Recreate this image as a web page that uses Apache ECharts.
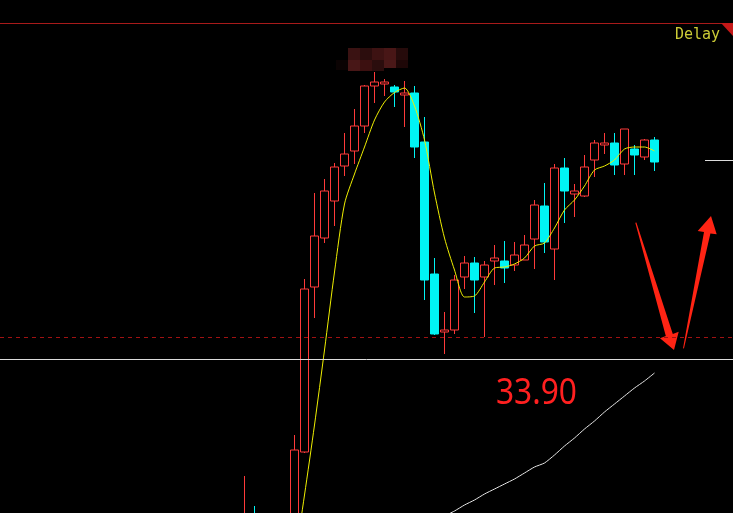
<!DOCTYPE html>
<html>
<head>
<meta charset="utf-8">
<script src="https://cdn.jsdelivr.net/npm/echarts@6/dist/echarts.min.js"></script>
<style>
html,body{margin:0;padding:0;background:#000;}
#chart{width:733px;height:513px;}
</style>
</head>
<body>
<div id="chart"></div>
<script>
// ---- data (prices); period index 0 = first candle ----
const opens  = [32.05,32.31,31.90,32.05,32.10,32.20,32.97,34.62,35.11,35.48,35.83,35.98,36.23,36.63,36.65,36.62,36.54,36.56,36.07,34.75,34.17,34.19,34.72,34.86,34.72,34.88,34.88,34.84,34.89,35.10,35.43,35.00,35.81,35.55,35.53,35.89,36.04,36.06,35.85,36.00,35.92,36.09];
const closes = [32.29,32.10,32.05,32.15,32.25,32.99,34.60,35.13,35.58,35.82,35.95,36.23,36.63,36.67,36.67,36.57,36.56,36.02,34.69,34.15,34.19,34.69,34.86,34.69,34.84,34.91,34.81,34.94,35.04,35.44,35.07,35.81,35.58,35.58,35.82,36.06,36.06,35.84,36.20,35.94,36.09,35.87];
const lows   = [31.98,31.95,31.85,31.95,32.00,32.15,32.96,34.31,35.06,35.23,35.73,35.85,36.16,36.46,36.53,36.42,36.22,35.91,34.49,34.14,33.95,34.15,34.60,34.36,34.12,34.64,34.66,34.78,34.89,34.80,34.96,34.69,35.26,35.32,35.52,35.72,35.95,35.74,35.74,35.74,35.89,35.78];
const highs  = [32.73,32.43,32.20,32.25,32.30,33.14,34.70,35.56,35.70,35.86,36.16,36.40,36.64,36.77,36.70,36.64,36.68,36.63,36.32,34.91,34.37,34.74,34.93,34.92,34.88,35.04,35.08,35.07,35.14,35.49,35.66,35.85,35.91,35.65,35.94,36.09,36.16,36.16,36.20,36.04,36.10,36.12];
const maShort = [null,null,null,null,31.49,31.89,32.54,33.24,33.99,34.77,35.45,35.75,36.02,36.29,36.47,36.565,36.61,36.43,36.09,35.56,35.11,34.79,34.52,34.53,34.67,34.81,34.82,34.85,34.91,35.03,35.06,35.21,35.39,35.49,35.63,35.79,35.83,35.89,36.00,36.02,36.02,35.98];
const maLong = [null,null,null,null,null,null,null,null,null,null,null,null,null,null,null,null,null,null,null,null,32.33,32.38,32.44,32.49,32.55,32.60,32.65,32.70,32.76,32.82,32.86,32.94,33.03,33.11,33.20,33.28,33.37,33.45,33.53,33.61,33.68,33.76];
const levelPrice = 33.90;     // white support line (labelled)
const dashedPrice = 34.115;   // dashed dark red line
const rightMarkPrice = 35.89; // short white mark at right
const rightMarkFrom = 46.05, rightMarkTo = 48.85; // period range of that mark
const xMin = -24.45, xMax = 48.85;  // visible period range
const yMin = 32.36, yMax = 37.49;   // visible price range
const labelText = '33.90';

// ---- build library structures ----
const candleData = opens.map((o, i) => [i, o, closes[i], lows[i], highs[i]]);
const shortData = [], longData = [];
maShort.forEach((v, i) => { if (v != null) shortData.push([i, v]); });
maLong.forEach((v, i) => { if (v != null) longData.push([i, v]); });

const chart = echarts.init(document.getElementById('chart'), null, {renderer: 'canvas'});
const option = {
  backgroundColor: '#000000',
  animation: false,
  grid: {left: 0, top: 0, width: 733, height: 513, containLabel: false},
  xAxis: {type: 'value', min: xMin, max: xMax, show: false, splitLine: {show: false}},
  yAxis: {type: 'value', min: yMin, max: yMax, show: false, splitLine: {show: false}},
  series: [
    {
      type: 'candlestick',
      data: candleData,
      encode: {x: 0, y: [1, 2, 3, 4]},
      barWidth: 8,
      clip: true,
      itemStyle: {
        color: '#000000', color0: '#00f4f4',
        borderColor: '#ff3a3a', borderColor0: '#00f4f4', borderWidth: 1
      },
      markLine: {
        silent: true, symbol: 'none', label: {show: false},
        data: [
          {yAxis: levelPrice, lineStyle: {color: '#dcdcdc', width: 1, type: 'solid'}},
          {yAxis: dashedPrice, lineStyle: {color: '#a01212', width: 1, type: [4, 4]}},
          [{coord: [rightMarkFrom, rightMarkPrice], lineStyle: {color: '#dcdcdc', width: 1, type: 'solid'}},
           {coord: [rightMarkTo, rightMarkPrice]}]
        ]
      }
    },
    {
      type: 'line', data: shortData, symbol: 'none', smooth: 0.25,
      lineStyle: {color: '#f0f000', width: 1}, z: 3
    },
    {
      type: 'line', data: longData, symbol: 'none', smooth: 0.2,
      lineStyle: {color: '#e6e6e6', width: 1}, z: 3
    }
  ],
  graphic: [
    {type: 'line', shape: {x1: 0, y1: 23.5, x2: 722, y2: 23.5}, style: {stroke: '#a81a1a', lineWidth: 1}, silent: true},
    {type: 'polygon', shape: {points: [[721, 23], [733, 23], [733, 36]]}, style: {fill: '#c41818'}, silent: true},
    {type: 'text', x: 675, y: 28, style: {text: 'Delay', font: '15px "DejaVu Sans Mono"', fill: '#cccc36'}, silent: true},
    {type: 'rect', shape: {x: 348, y: 48, width: 12, height: 12}, style: {fill: '#3a1212'}, silent: true},
    {type: 'rect', shape: {x: 360, y: 48, width: 12, height: 12}, style: {fill: '#2c0d0d'}, silent: true},
    {type: 'rect', shape: {x: 372, y: 48, width: 12, height: 12}, style: {fill: '#3d1212'}, silent: true},
    {type: 'rect', shape: {x: 384, y: 48, width: 12, height: 12}, style: {fill: '#481616'}, silent: true},
    {type: 'rect', shape: {x: 396, y: 48, width: 12, height: 12}, style: {fill: '#260b0b'}, silent: true},
    {type: 'rect', shape: {x: 336, y: 60, width: 12, height: 10}, style: {fill: '#0b0303'}, silent: true},
    {type: 'rect', shape: {x: 348, y: 60, width: 12, height: 11}, style: {fill: '#481717'}, silent: true},
    {type: 'rect', shape: {x: 360, y: 60, width: 12, height: 11}, style: {fill: '#3c1010'}, silent: true},
    {type: 'rect', shape: {x: 372, y: 60, width: 12, height: 11}, style: {fill: '#2b0d0d'}, silent: true},
    {type: 'rect', shape: {x: 384, y: 60, width: 12, height: 8}, style: {fill: '#4a1818'}, silent: true},
    {type: 'rect', shape: {x: 396, y: 60, width: 12, height: 8}, style: {fill: '#1e0707'}, silent: true},
    {type: 'polygon', shape: {points: [[635.3, 222.8], [636.4, 222.5], [672.8, 333.9], [678.7, 331.7], [674, 350], [660, 338.3], [665.8, 336.1]]}, style: {fill: '#ff2414'}, silent: true},
    {type: 'polygon', shape: {points: [[683, 348.5], [704, 232.0], [697.7, 231], [711, 216], [716.7, 234.3], [710.4, 233.4], [684, 348.3]]}, style: {fill: '#ff2414'}, silent: true},
    {type: 'text', x: 496, y: 376, scaleX: 0.88, style: {text: labelText, font: '36px "Noto Sans"', fill: '#ff2020'}, silent: true}
  ]
};
chart.setOption(option);
</script>
</body>
</html>
